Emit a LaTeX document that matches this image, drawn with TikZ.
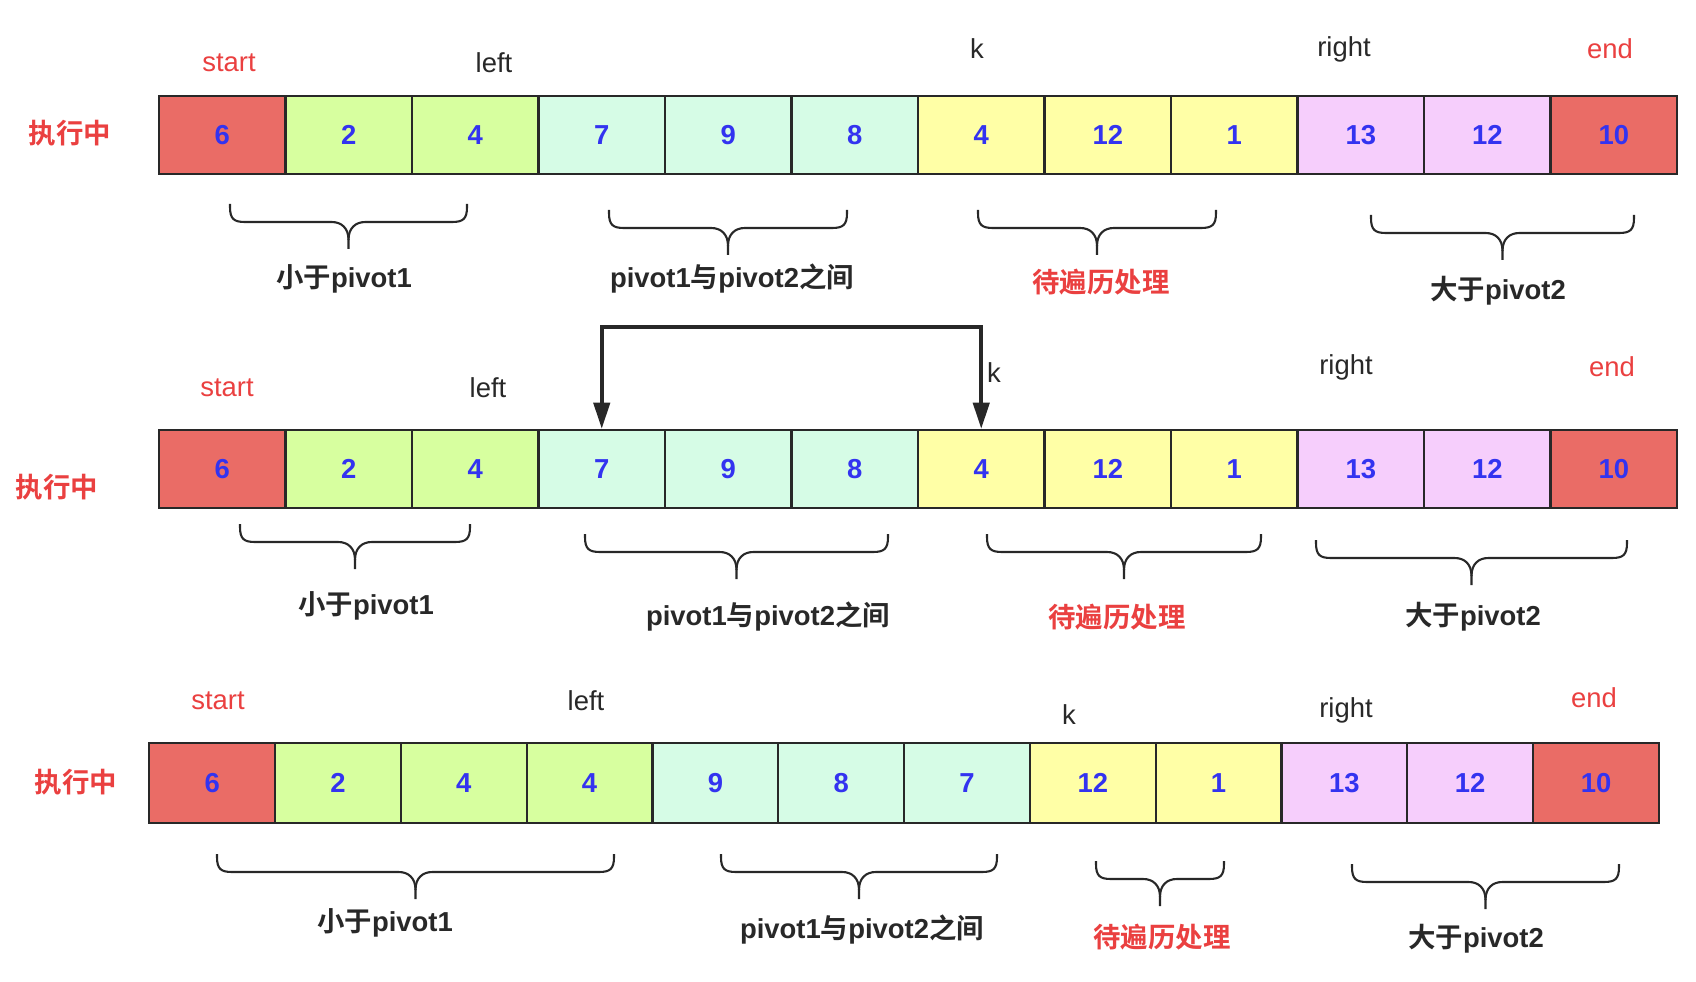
\documentclass[tikz,border=0pt]{standalone}
\usepackage{fontspec}
\setmainfont{Liberation Sans}
\newfontfamily\cjk{Noto Sans CJK SC}[BoldFont={Noto Sans CJK SC Bold}]
\usetikzlibrary{arrows.meta}
\definecolor{cred}{RGB}{234,108,102}
\definecolor{cgrn}{RGB}{215,255,159}
\definecolor{ccyn}{RGB}{214,252,230}
\definecolor{cyel}{RGB}{255,255,166}
\definecolor{cpnk}{RGB}{246,206,252}
\definecolor{numblue}{RGB}{51,51,240}
\definecolor{txtred}{RGB}{234,64,64}
\definecolor{ink}{RGB}{40,40,40}
\tikzset{
  cell/.style={draw=ink,line width=0.6pt,minimum width=1.265cm,minimum height=0.78cm,
    inner sep=0pt,font=\fontsize{7.8}{9}\selectfont\bfseries,text=numblue},
  ptr/.style={font=\fontsize{7.8}{9}\selectfont,text=ink},
  ptrred/.style={ptr,text=txtred},
  tag/.style={font=\fontsize{7.8}{9}\selectfont\bfseries,text=ink},
  tagred/.style={tag,text=txtred},
  brc/.style={draw=ink,line width=0.6pt},
  swap/.style={<->,draw=ink,line width=1.1pt},
}
\begin{document}
\begin{tikzpicture}[x=0.01cm,y=-0.01cm,>={Triangle[length=7.5pt,width=4.6pt]}]
\useasboundingbox (0,0) rectangle (1696,982);
% 花括号：\brc{左x}{右x}{上y}
\newcommand{\brc}[3]{
  \pgfmathsetmacro\brm{(#1+#2)/2}
  \draw[brc] (#1,#3) -- (#1,#3+3) .. controls (#1,#3+15) and (#1+4,#3+18) .. (#1+15,#3+18)
    -- (\brm-17,#3+18) .. controls (\brm-7,#3+18) and (\brm,#3+24) .. (\brm,#3+36) -- (\brm,#3+45);
  \draw[brc] (#2,#3) -- (#2,#3+3) .. controls (#2,#3+15) and (#2-4,#3+18) .. (#2-15,#3+18)
    -- (\brm+17,#3+18) .. controls (\brm+7,#3+18) and (\brm,#3+24) .. (\brm,#3+36);}
% ---------- 第一行 ----------
\begin{scope}
\foreach \v/\col [count=\i] in {6/cred,2/cgrn,4/cgrn,7/ccyn,9/ccyn,8/ccyn,4/cyel,12/cyel,1/cyel,13/cpnk,12/cpnk,10/cred}
  \node[cell,fill=\col] (r1c\i) at ({159+(\i-0.5)*126.5},135) {\v};
\node[tagred] (run1) at (70,133) {\cjk 执行中};
\node[ptrred] (st1) at (229,63) {start};
\node[ptr] (lf1) at (494,63) {left};
\node[ptr] (k1) at (977,49) {k};
\node[ptr] (rt1) at (1344,49) {right};
\node[ptrred] (en1) at (1610,49) {end};
\brc{230}{467}{204} \brc{609}{847}{210} \brc{978}{1216}{210} \brc{1371}{1634}{215}
\node[tag] (lo1) at (344,279) {{\cjk 小于}pivot1};
\node[tag] (md1) at (732,279) {pivot1{\cjk 与}pivot2{\cjk 之间}};
\node[tagred] (td1) at (1101,282) {\cjk 待遍历处理};
\node[tag] (hi1) at (1498,291) {{\cjk 大于}pivot2};
\end{scope}
% ---------- 第二行（交换 7 和 4） ----------
\begin{scope}
\foreach \v/\col [count=\i] in {6/cred,2/cgrn,4/cgrn,7/ccyn,9/ccyn,8/ccyn,4/cyel,12/cyel,1/cyel,13/cpnk,12/cpnk,10/cred}
  \node[cell,fill=\col] (r2c\i) at ({159+(\i-0.5)*126.5},469) {\v};
\node[tagred] (run2) at (57,487) {\cjk 执行中};
\node[ptrred] (st2) at (227,388) {start};
\node[ptr] (lf2) at (488,388) {left};
\node[ptr] (k2) at (994,373) {k};
\node[ptr] (rt2) at (1346,367) {right};
\node[ptrred] (en2) at (1612,367) {end};
\draw[swap] (r2c4.north) -- ++(0,-102) -| (r2c7.north);
\brc{240}{470}{524} \brc{585}{888}{534} \brc{987}{1261}{534} \brc{1316}{1627}{540}
\node[tag] (lo2) at (366,606) {{\cjk 小于}pivot1};
\node[tag] (md2) at (768,617) {pivot1{\cjk 与}pivot2{\cjk 之间}};
\node[tagred] (td2) at (1117,617) {\cjk 待遍历处理};
\node[tag] (hi2) at (1473,617) {{\cjk 大于}pivot2};
\end{scope}
% ---------- 第三行 ----------
\begin{scope}[cell/.append style={minimum width=1.258cm,minimum height=0.80cm}]
\foreach \v/\col [count=\i] in {6/cred,2/cgrn,4/cgrn,4/cgrn,9/ccyn,8/ccyn,7/ccyn,12/cyel,1/cyel,13/cpnk,12/cpnk,10/cred}
  \node[cell,fill=\col] (r3c\i) at ({149.3+(\i-0.5)*125.8},783) {\v};
\node[tagred] (run3) at (76,782) {\cjk 执行中};
\node[ptrred] (st3) at (218,701) {start};
\node[ptr] (lf3) at (586,701) {left};
\node[ptr] (k3) at (1069,715) {k};
\node[ptr] (rt3) at (1346,710) {right};
\node[ptrred] (en3) at (1594,698) {end};
\brc{217}{614}{854} \brc{721}{997}{854} \brc{1096}{1224}{861} \brc{1352}{1619}{864}
\node[tag] (lo3) at (385,923) {{\cjk 小于}pivot1};
\node[tag] (md3) at (862,930) {pivot1{\cjk 与}pivot2{\cjk 之间}};
\node[tagred] (td3) at (1162,937) {\cjk 待遍历处理};
\node[tag] (hi3) at (1476,939) {{\cjk 大于}pivot2};
\end{scope}
\end{tikzpicture}
\end{document}
